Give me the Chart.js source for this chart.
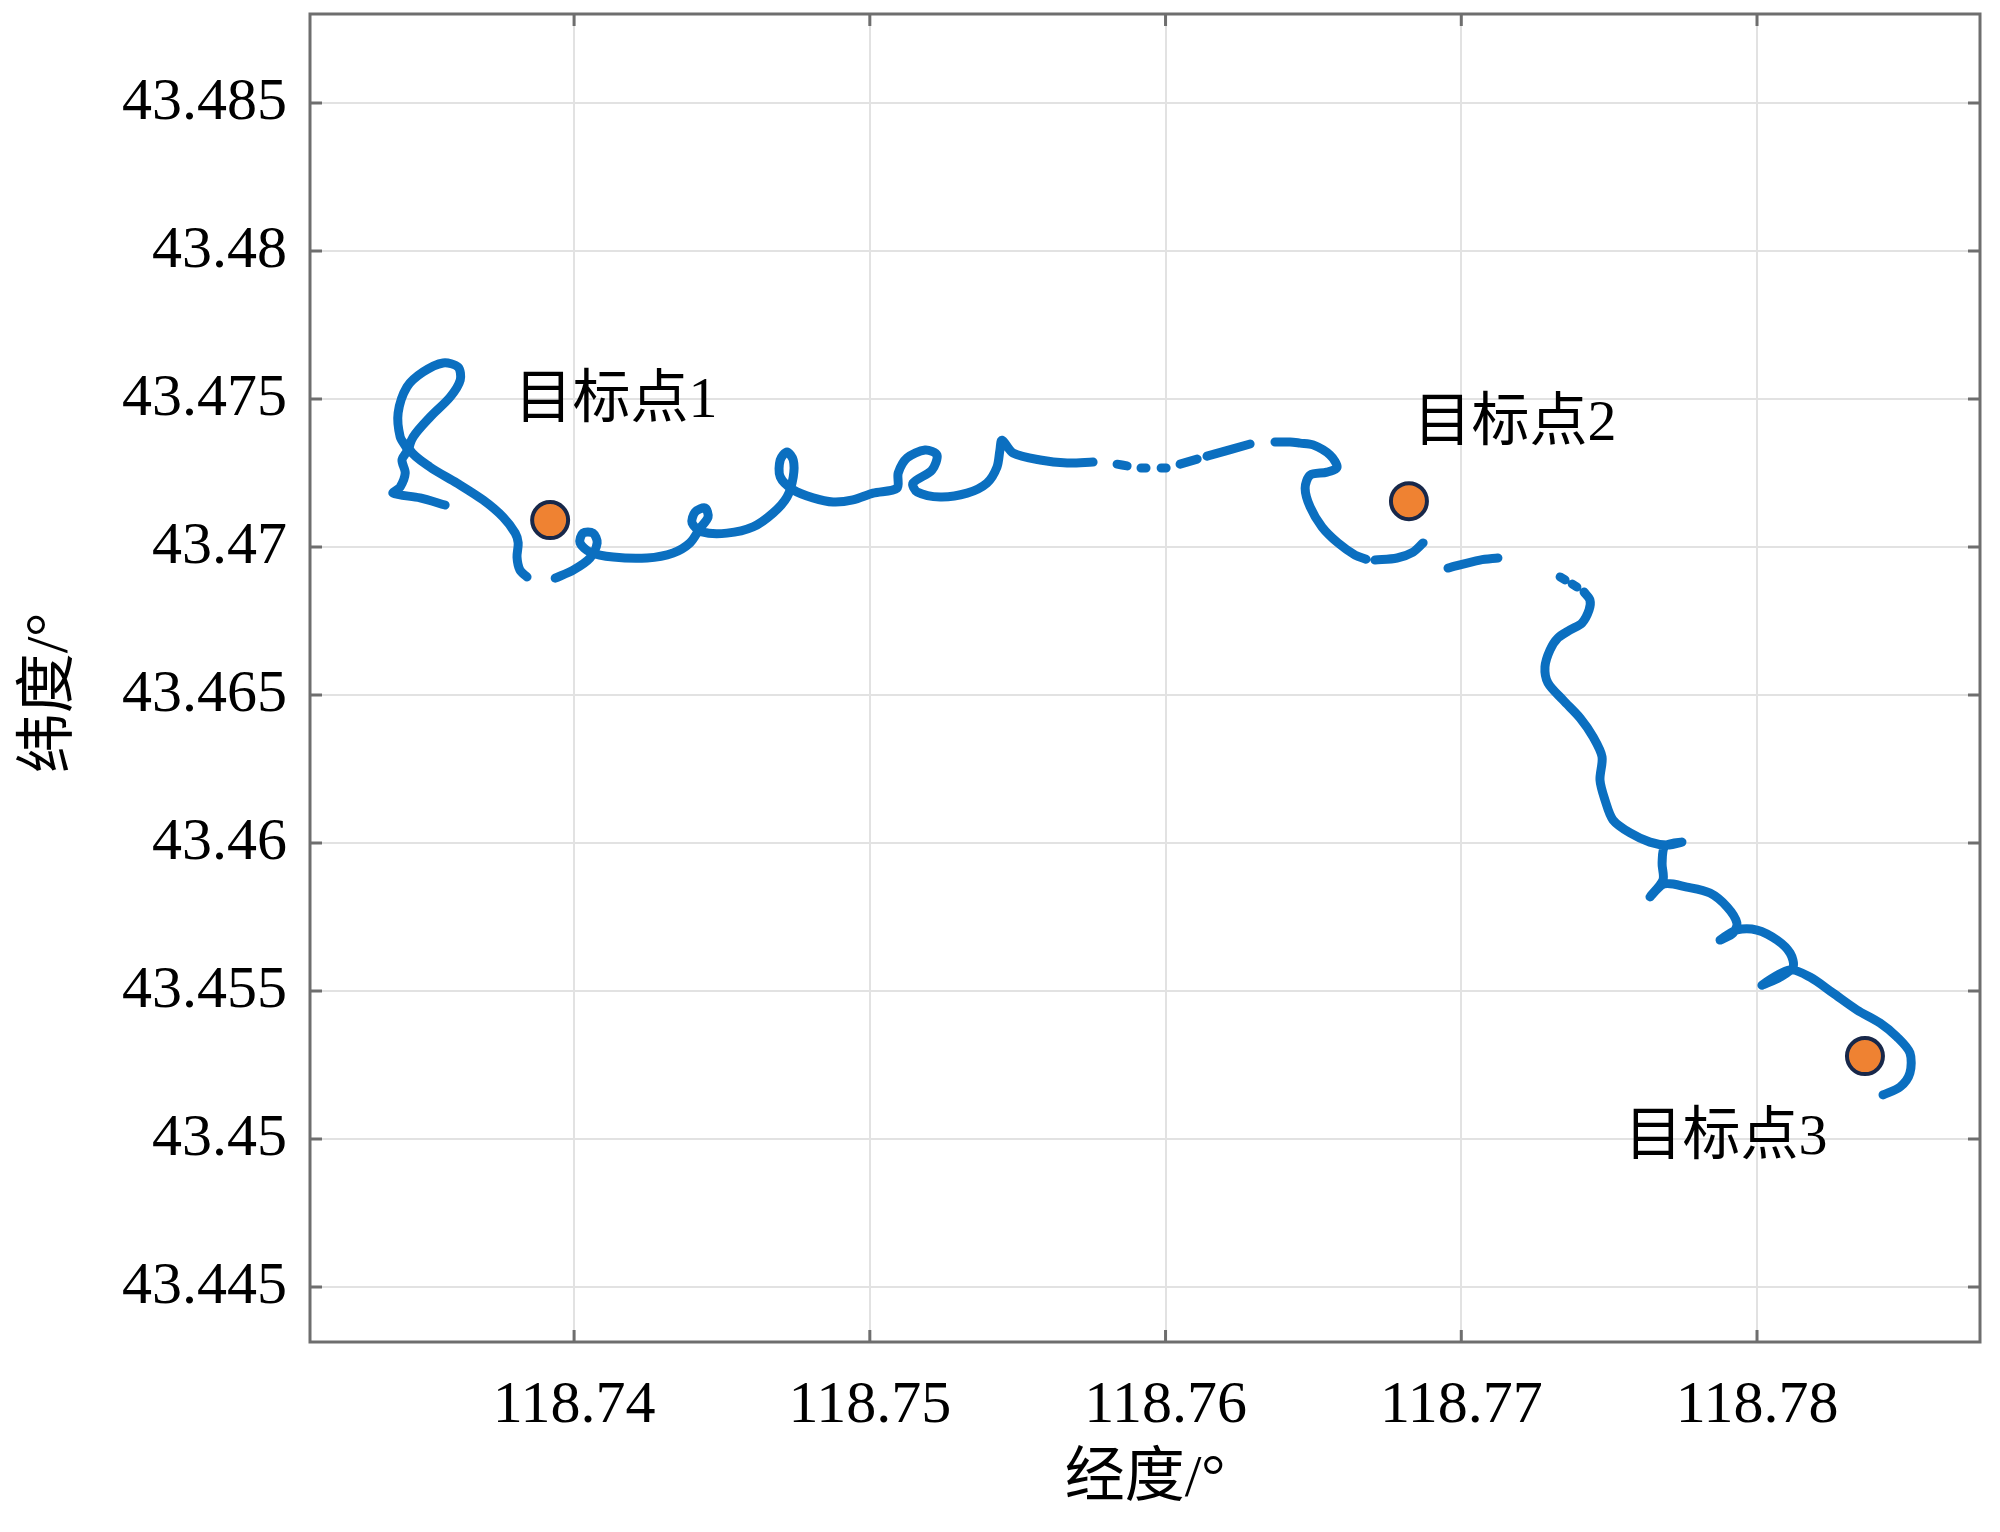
<!DOCTYPE html>
<html>
<head>
<meta charset="utf-8">
<script src="https://cdn.jsdelivr.net/npm/chart.js"></script>
<style>
  html, body { margin: 0; padding: 0; background: #fff; }
  #wrap { width: 2000px; height: 1532px; }
</style>
</head>
<body>
<div id="wrap"><canvas id="track" width="2000" height="1532"></canvas></div>
<script>
// axis ticks and limits (longitude / latitude, degrees)
const xTicks = [118.74, 118.75, 118.76, 118.77, 118.78];
const xTickLabels = ['118.74', '118.75', '118.76', '118.77', '118.78'];
const yTicks = [43.445, 43.45, 43.455, 43.46, 43.465, 43.47, 43.475, 43.48, 43.485];
const yTickLabels = ['43.445', '43.45', '43.455', '43.46', '43.465', '43.47', '43.475', '43.48', '43.485'];
const xRange = [118.73107, 118.78754];
const yRange = [43.44314, 43.48801];

// target points
const targetLon = [118.73919, 118.76823, 118.78365];
const targetLat = [43.47091, 43.47155, 43.45280];
const labelText = ['目标点1', '目标点2', '目标点3'];
const labelLon = [118.74142, 118.77182, 118.77895];
const labelLat = [43.47490, 43.47412, 43.45000];

// GPS track, [lon, lat]; null = break in the record
const trackA = [
  [118.73564, 43.47142], [118.73479, 43.47166], [118.73388, 43.47182], [118.73412, 43.47203],
  [118.73429, 43.47250], [118.73418, 43.47294], [118.73435, 43.47328], [118.73412, 43.47372],
  [118.73405, 43.47453], [118.73435, 43.47541], [118.73489, 43.47591], [118.73557, 43.47622],
  [118.73608, 43.47608], [118.73615, 43.47564], [118.73581, 43.47507], [118.73513, 43.47439],
  [118.73456, 43.47372], [118.73445, 43.47328], [118.73513, 43.47270], [118.73604, 43.47216],
  [118.73692, 43.47159], [118.73760, 43.47101], [118.73801, 43.47047], [118.73811, 43.47014],
  [118.73807, 43.46966], [118.73817, 43.46922], [118.73841, 43.46899]
];
const trackB = [
  [118.73936, 43.46895], [118.73997, 43.46922], [118.74054, 43.46963], [118.74078, 43.47014],
  [118.74064, 43.47047], [118.74030, 43.47047], [118.74020, 43.47014], [118.74054, 43.46983],
  [118.74132, 43.46966], [118.74247, 43.46963], [118.74335, 43.46980], [118.74392, 43.47014],
  [118.74426, 43.47064], [118.74453, 43.47101], [118.74443, 43.47132], [118.74409, 43.47118],
  [118.74399, 43.47081], [118.74433, 43.47051], [118.74517, 43.47047], [118.74605, 43.47068],
  [118.74673, 43.47115], [118.74720, 43.47169], [118.74741, 43.47237], [118.74741, 43.47294],
  [118.74720, 43.47321], [118.74697, 43.47294], [118.74697, 43.47237], [118.74741, 43.47193],
  [118.74808, 43.47166], [118.74876, 43.47152], [118.74943, 43.47159], [118.75011, 43.47182],
  [118.75092, 43.47199], [118.75096, 43.47250], [118.75126, 43.47301], [118.75187, 43.47328],
  [118.75227, 43.47311], [118.75210, 43.47260], [118.75146, 43.47216], [118.75160, 43.47186],
  [118.75238, 43.47169], [118.75329, 43.47182], [118.75396, 43.47216], [118.75430, 43.47270],
  [118.75440, 43.47328], [118.75447, 43.47361], [118.75484, 43.47318], [118.75576, 43.47294],
  [118.75667, 43.47284], [118.75755, 43.47287]
];
const trackC = [
  [118.75836, 43.47280], [118.75870, 43.47274], null,
  [118.75917, 43.47267], [118.75934, 43.47267], null,
  [118.75985, 43.47267], [118.76002, 43.47267], null,
  [118.76049, 43.47280], [118.76107, 43.47297], null,
  [118.76140, 43.47307], [118.76286, 43.47348], null,
  [118.76370, 43.47355], [118.76421, 43.47355], [118.76455, 43.47351], [118.76499, 43.47345],
  [118.76556, 43.47311], [118.76580, 43.47270], [118.76546, 43.47253], [118.76489, 43.47243],
  [118.76472, 43.47199], [118.76489, 43.47135], [118.76529, 43.47068], [118.76583, 43.47014],
  [118.76641, 43.46973], [118.76678, 43.46959], null,
  [118.76708, 43.46956], [118.76783, 43.46963], [118.76837, 43.46983], [118.76871, 43.47014]
];
const trackD = [
  [118.76955, 43.46929], [118.77063, 43.46956], [118.77124, 43.46963], null,
  [118.77334, 43.46899], [118.77351, 43.46889], null,
  [118.77375, 43.46875], [118.77391, 43.46865], null,
  [118.77415, 43.46848], [118.77435, 43.46821], [118.77432, 43.46787], [118.77408, 43.46743],
  [118.77368, 43.46720], [118.77327, 43.46693], [118.77300, 43.46652], [118.77283, 43.46595],
  [118.77293, 43.46541], [118.77344, 43.46483], [118.77402, 43.46422], [118.77446, 43.46358],
  [118.77476, 43.46291], [118.77469, 43.46213], [118.77486, 43.46145], [118.77513, 43.46078],
  [118.77571, 43.46034], [118.77638, 43.46003], [118.77696, 43.45993], [118.77746, 43.46003],
  [118.77689, 43.45990], [118.77679, 43.45932], [118.77682, 43.45875], [118.77638, 43.45818],
  [118.77686, 43.45862], [118.77763, 43.45851], [118.77841, 43.45831], [118.77899, 43.45784],
  [118.77932, 43.45730], [118.77919, 43.45696], [118.77875, 43.45672], [118.77932, 43.45706],
  [118.78000, 43.45706], [118.78068, 43.45672], [118.78112, 43.45628], [118.78122, 43.45581],
  [118.78078, 43.45547], [118.78017, 43.45520], [118.78112, 43.45571], [118.78179, 43.45547],
  [118.78257, 43.45493], [118.78338, 43.45436], [118.78416, 43.45392], [118.78473, 43.45345],
  [118.78517, 43.45291], [118.78517, 43.45223], [118.78484, 43.45176], [118.78426, 43.45149]
];

const toPoint = p => p ? { x: p[0], y: p[1] } : { x: null, y: null };
const trackData = [...trackA, null, ...trackB, null, ...trackC, null, ...trackD].map(toPoint);
const targetData = targetLon.map((lon, i) => ({ x: lon, y: targetLat[i] }));

const serif = '"Liberation Serif", "Noto Sans CJK SC", serif';

// box around the plot, inward tick marks and the target labels
const framePlugin = {
  id: 'frame',
  afterDatasetsDraw(chart) {
    const { ctx, chartArea: a, scales: { x, y } } = chart;
    ctx.save();
    ctx.strokeStyle = '#6e6e6e';
    ctx.lineWidth = 3;
    ctx.beginPath();
    xTicks.forEach(v => {
      const px = x.getPixelForValue(v);
      ctx.moveTo(px, a.bottom); ctx.lineTo(px, a.bottom - 12);
      ctx.moveTo(px, a.top); ctx.lineTo(px, a.top + 12);
    });
    yTicks.forEach(v => {
      const py = y.getPixelForValue(v);
      ctx.moveTo(a.left, py); ctx.lineTo(a.left + 12, py);
      ctx.moveTo(a.right, py); ctx.lineTo(a.right - 12, py);
    });
    ctx.stroke();
    ctx.strokeRect(a.left, a.top, a.right - a.left, a.bottom - a.top);

    ctx.fillStyle = '#000';
    ctx.font = '58px ' + serif;
    ctx.textAlign = 'center';
    ctx.textBaseline = 'middle';
    labelText.forEach((t, i) => {
      ctx.fillText(t, x.getPixelForValue(labelLon[i]), y.getPixelForValue(labelLat[i]));
    });
    ctx.restore();
  }
};

new Chart(document.getElementById('track'), {
  type: 'scatter',
  data: {
    datasets: [
      {
        label: 'targets',
        data: targetData,
        pointRadius: 18,
        pointBorderWidth: 4,
        pointBackgroundColor: '#ef8232',
        pointBorderColor: '#18284a',
        showLine: false
      },
      {
        label: 'track',
        data: trackData,
        showLine: true,
        spanGaps: false,
        borderColor: '#0b6fc0',
        borderWidth: 9,
        borderCapStyle: 'round',
        borderJoinStyle: 'round',
        tension: 0.3,
        pointRadius: 0
      }
    ]
  },
  options: {
    responsive: false,
    animation: false,
    devicePixelRatio: 1,
    layout: { autoPadding: false, padding: { top: 14, right: 20, left: 0, bottom: 0 } },
    plugins: { legend: { display: false }, tooltip: { enabled: false } },
    scales: {
      x: {
        type: 'linear',
        min: xRange[0],
        max: xRange[1],
        afterBuildTicks: s => { s.ticks = xTicks.map(v => ({ value: v })); },
        afterFit: s => { s.height = 190; s.paddingLeft = 0; s.paddingRight = 0; },
        ticks: {
          padding: 28, color: '#000', maxRotation: 0, autoSkip: false,
          font: { family: serif, size: 60 },
          callback: (v, i) => xTickLabels[i]
        },
        grid: { color: '#e2e2e2', lineWidth: 2, drawTicks: false },
        border: { display: false },
        title: {
          display: true, text: '经度/°', color: '#000',
          font: { family: serif, size: 60 },
          padding: { top: 0, bottom: 16 }
        }
      },
      y: {
        type: 'linear',
        min: yRange[0],
        max: yRange[1],
        afterBuildTicks: s => { s.ticks = yTicks.map(v => ({ value: v })); },
        afterFit: s => { s.width = 310; s.paddingTop = 0; s.paddingBottom = 0; },
        ticks: {
          padding: 23, color: '#000', autoSkip: false,
          font: { family: serif, size: 60 },
          callback: (v, i) => yTickLabels[i]
        },
        grid: { color: '#e2e2e2', lineWidth: 2, drawTicks: false },
        border: { display: false },
        title: {
          display: true, text: '纬度/°  ', color: '#000',
          font: { family: serif, size: 60 },
          padding: { top: 15, bottom: 0 }
        }
      }
    }
  },
  plugins: [framePlugin]
});
</script>
</body>
</html>
